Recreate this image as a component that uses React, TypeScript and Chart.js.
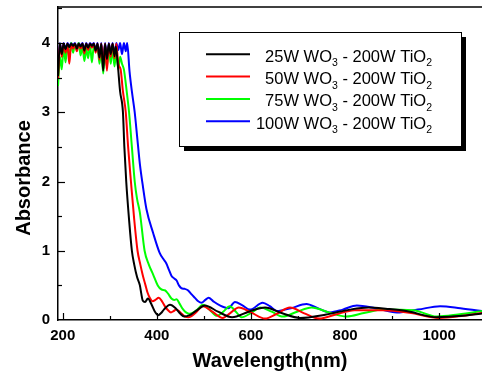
import React, { useEffect, useRef } from 'react';
import { Chart, registerables } from 'chart.js';

Chart.register(...registerables);

// ---------- data (wavelength in nm, absorbance) ----------
const WL_25 = [
  190, 194, 198, 202, 206, 210, 214, 218, 222, 226, 230, 234, 238, 242, 246, 250, 254, 258, 262, 266,
  270, 274, 278, 282, 286, 290, 294, 298, 302, 306, 310, 313, 317, 322, 328, 331, 335, 341, 347, 352,
  358, 364, 367, 370, 375, 381, 389, 396, 403, 409, 415, 428, 440, 450, 458, 470, 485, 502, 530, 560,
  595, 630, 665, 704, 760, 810, 850, 890, 930, 995, 1050, 1100,
];
const ABS_25 = [
  3.52, 3.99, 3.84, 3.99, 3.91, 3.99, 3.94, 3.99, 3.96, 3.99, 3.92, 3.99, 3.95, 3.99, 3.89, 3.99, 3.93, 3.99, 3.96, 3.99,
  3.89, 3.99, 3.79, 3.99, 3.6, 3.99, 3.77, 3.99, 3.84, 3.99, 3.81, 3.95, 3.69, 3.3, 3.0, 2.5, 2.0, 1.45, 1.0, 0.8,
  0.62, 0.5, 0.38, 0.28, 0.26, 0.31, 0.22, 0.12, 0.07, 0.1, 0.15, 0.22, 0.17, 0.09, 0.05, 0.07, 0.14, 0.21, 0.12, 0.04,
  0.12, 0.18, 0.1, 0.03, 0.08, 0.15, 0.18, 0.16, 0.13, 0.04, 0.06, 0.1,
];

const WL_50 = [
  190, 194, 198, 202, 206, 210, 214, 218, 222, 226, 230, 234, 238, 242, 246, 250, 254, 258, 262, 266,
  270, 274, 278, 282, 286, 290, 294, 298, 302, 306, 310, 314, 318, 323, 328, 334, 339, 345, 352, 359,
  365, 370, 376, 380, 385, 391, 397, 404, 411, 418, 424, 430, 436, 441, 447, 453, 460, 467, 482, 498,
  518, 540, 556, 574, 600, 630, 655, 683, 712, 745, 780, 820, 880, 940, 1000, 1050, 1100,
];
const ABS_50 = [
  3.48, 3.99, 3.8, 3.99, 3.86, 3.99, 3.7, 3.99, 3.92, 3.99, 3.88, 3.99, 3.92, 3.99, 3.85, 3.99, 3.9, 3.99, 3.93, 3.99,
  3.86, 3.99, 3.76, 3.99, 3.68, 3.99, 3.6, 3.99, 3.8, 3.99, 3.78, 3.99, 3.7, 3.62, 3.3, 3.0, 2.5, 2.0, 1.45, 1.0,
  0.8, 0.65, 0.5, 0.4, 0.32, 0.27, 0.29, 0.32, 0.27, 0.19, 0.14, 0.11, 0.13, 0.15, 0.13, 0.09, 0.05, 0.04, 0.1, 0.2,
  0.12, 0.03, 0.1, 0.18, 0.11, 0.02, 0.09, 0.18, 0.1, 0.02, 0.08, 0.14, 0.14, 0.1, 0.03, 0.06, 0.11,
];

const WL_75 = [
  190, 194, 198, 202, 206, 210, 214, 218, 222, 226, 230, 234, 238, 242, 246, 250, 254, 258, 262, 266,
  270, 274, 278, 282, 286, 290, 294, 298, 302, 306, 310, 314, 318, 322, 326, 330, 336, 341, 347, 353,
  358, 364, 374, 383, 392, 402, 410, 417, 424, 431, 437, 442, 448, 455, 462, 470, 484, 498, 512, 528,
  541, 555, 568, 580, 600, 620, 644, 668, 698, 729, 765, 803, 840, 881, 945, 995, 1040, 1100,
];
const ABS_75 = [
  3.38, 3.8, 3.62, 3.95, 3.72, 3.98, 3.8, 4.0, 3.86, 3.98, 3.9, 4.0, 3.82, 3.96, 3.74, 3.92, 3.78, 3.98, 3.72, 3.95,
  3.9, 3.98, 3.7, 3.9, 3.56, 3.85, 3.66, 3.95, 3.7, 3.92, 3.66, 3.9, 3.62, 3.8, 3.7, 3.62, 3.3, 3.0, 2.5, 2.0,
  1.75, 1.55, 1.0, 0.8, 0.66, 0.5, 0.44, 0.43, 0.38, 0.31, 0.29, 0.3, 0.24, 0.16, 0.11, 0.09, 0.14, 0.22, 0.15, 0.06,
  0.12, 0.2, 0.12, 0.04, 0.1, 0.18, 0.12, 0.05, 0.12, 0.18, 0.11, 0.05, 0.1, 0.15, 0.14, 0.05, 0.08, 0.14,
];

const WL_100 = [
  190, 194, 198, 202, 206, 210, 214, 218, 222, 226, 230, 234, 238, 242, 246, 250, 254, 258, 262, 266,
  270, 274, 278, 282, 286, 290, 294, 298, 302, 306, 310, 314, 318, 322, 326, 330, 334, 337, 342, 347,
  353, 358, 364, 370, 378, 392, 406, 414, 420, 426, 431, 437, 442, 447, 452, 459, 466, 474, 481, 488,
  495, 503, 510, 520, 534, 552, 566, 582, 598, 625, 640, 655, 685, 718, 742, 768, 795, 825, 865, 910,
  955, 1002, 1045, 1100,
];
const ABS_100 = [
  3.55, 4.0, 3.85, 4.0, 3.92, 4.0, 3.95, 4.0, 3.97, 4.0, 3.93, 4.0, 3.96, 4.0, 3.9, 4.0, 3.94, 4.0, 3.97, 4.0,
  3.9, 4.0, 3.8, 4.0, 3.72, 4.0, 3.78, 4.0, 3.85, 4.0, 3.82, 4.0, 3.9, 4.0, 3.84, 4.0, 3.88, 4.0, 3.59, 3.3,
  3.0, 2.66, 2.25, 1.95, 1.6, 1.26, 0.97, 0.88, 0.82, 0.72, 0.64, 0.6, 0.57, 0.5, 0.46, 0.45, 0.43, 0.37, 0.32, 0.27,
  0.25, 0.29, 0.32, 0.27, 0.21, 0.17, 0.26, 0.21, 0.15, 0.25, 0.2, 0.13, 0.17, 0.23, 0.17, 0.11, 0.15, 0.21, 0.17, 0.11,
  0.15, 0.2, 0.17, 0.12,
];

const SERIES_POWER = ['25W', '50W', '75W', '100W'];
const SERIES_COLORS = ['#000000', '#ff0000', '#00ff00', '#0000ff'];
const SERIES_WL = [WL_25, WL_50, WL_75, WL_100];
const SERIES_ABS = [ABS_25, ABS_50, ABS_75, ABS_100];

const X_MIN = 190;
const X_MAX = 1091;
const Y_MIN = 0;
const Y_MAX = 4.52;
const X_TICKS = [200, 300, 400, 500, 600, 700, 800, 900, 1000];
const X_LABELS = [200, 400, 600, 800, 1000];
const Y_TICKS = [0, 0.5, 1, 1.5, 2, 2.5, 3, 3.5, 4, 4.5];
const Y_LABELS = [0, 1, 2, 3, 4];
const X_TITLE = 'Wavelength(nm)';
const Y_TITLE = 'Absorbance';

const FONT = '"Liberation Sans", Arial, sans-serif';

const decorPlugin = {
  id: 'decor',
  afterDraw(chart: any) {
    const { ctx, chartArea: a, scales } = chart;
    const xs = scales.x;
    const ys = scales.y;
    ctx.save();
    ctx.strokeStyle = '#000';
    ctx.lineWidth = 1.5;
    // top frame line
    ctx.beginPath();
    ctx.moveTo(a.left, a.top);
    ctx.lineTo(a.right, a.top);
    ctx.stroke();
    // inward ticks
    ctx.lineWidth = 1.2;
    X_TICKS.forEach((v) => {
      const px = Math.round(xs.getPixelForValue(v)) + 0.5;
      const len = X_LABELS.includes(v) ? 7 : 4;
      ctx.beginPath();
      ctx.moveTo(px, a.bottom);
      ctx.lineTo(px, a.bottom - len);
      ctx.stroke();
    });
    Y_TICKS.forEach((v) => {
      if (v === 0) return;
      const py = Math.round(ys.getPixelForValue(v)) + 0.5;
      const len = Y_LABELS.includes(v) ? 7 : 4;
      ctx.beginPath();
      ctx.moveTo(a.left, py);
      ctx.lineTo(a.left + len, py);
      ctx.stroke();
    });
    // axis titles
    ctx.fillStyle = '#000';
    ctx.font = `bold 20px ${FONT}`;
    ctx.textAlign = 'center';
    ctx.textBaseline = 'alphabetic';
    ctx.fillText(X_TITLE, (a.left + a.right) / 2, 367);
    ctx.save();
    ctx.translate(30, 178);
    ctx.rotate(-Math.PI / 2);
    ctx.fillText(Y_TITLE, 0, 0);
    ctx.restore();

    // legend
    const bx = 179, by = 32, bw = 282, bh = 114;
    ctx.fillStyle = '#000';
    ctx.fillRect(bx + 5, by + 5, bw, bh);
    ctx.fillStyle = '#fff';
    ctx.fillRect(bx, by, bw, bh);
    ctx.lineWidth = 1;
    ctx.strokeStyle = '#000';
    ctx.strokeRect(bx + 0.5, by + 0.5, bw, bh);
    const mainFont = `16.5px ${FONT}`;
    const subFont = `10.5px ${FONT}`;
    const rightX = 432;
    SERIES_POWER.forEach((p, i) => {
      const ly = 54.3 + i * 22.3;
      ctx.strokeStyle = SERIES_COLORS[i];
      ctx.lineWidth = 2;
      ctx.beginPath();
      ctx.moveTo(206, ly);
      ctx.lineTo(250, ly);
      ctx.stroke();
      const parts = [
        { t: `${p} WO`, f: mainFont, dy: 0 },
        { t: '3', f: subFont, dy: 4.5 },
        { t: ' - 200W TiO', f: mainFont, dy: 0 },
        { t: '2', f: subFont, dy: 4.5 },
      ];
      let total = 0;
      parts.forEach((pt) => {
        ctx.font = pt.f;
        total += ctx.measureText(pt.t).width;
      });
      let cx = rightX - total;
      const base = ly + 7.4;
      ctx.fillStyle = '#000';
      ctx.textAlign = 'left';
      parts.forEach((pt) => {
        ctx.font = pt.f;
        ctx.fillText(pt.t, cx, base + pt.dy);
        cx += ctx.measureText(pt.t).width;
      });
    });
    ctx.restore();
  },
};

export default function App() {
  const canvasRef = useRef<HTMLCanvasElement | null>(null);

  useEffect(() => {
    document.body.style.margin = '0';
    const canvas = canvasRef.current;
    if (!canvas) return;
    const datasets = SERIES_POWER.map((p, i) => ({
      label: `${p} WO3 - 200W TiO2`,
      data: SERIES_WL[i].map((w, k) => ({ x: w, y: SERIES_ABS[i][k] })),
      borderColor: SERIES_COLORS[i],
      backgroundColor: SERIES_COLORS[i],
      borderWidth: 2,
      pointRadius: 0,
      fill: false,
      cubicInterpolationMode: 'monotone' as const,
    }));
    const chart = new Chart(canvas, {
      type: 'line',
      data: { datasets },
      options: {
        animation: false,
        responsive: false,
        devicePixelRatio: 1,
        layout: { padding: { top: 7, left: 0, right: 0, bottom: 0 } },
        plugins: { legend: { display: false }, tooltip: { enabled: false } },
        scales: {
          x: {
            type: 'linear',
            min: X_MIN,
            max: X_MAX,
            grid: { display: false, drawTicks: false },
            border: { display: true, color: '#000', width: 1.5 },
            afterBuildTicks: (s: any) => {
              s.ticks = X_LABELS.map((v) => ({ value: v }));
            },
            ticks: {
              autoSkip: false,
              maxRotation: 0,
              minRotation: 0,
              padding: 7,
              color: '#000',
              font: { family: FONT, size: 15, weight: 'bold' },
              callback: (v: any) => String(v),
            },
            afterFit: (s: any) => {
              s.height = 60;
              s.paddingLeft = 0;
              s.paddingRight = 0;
            },
          },
          y: {
            type: 'linear',
            min: Y_MIN,
            max: Y_MAX,
            grid: { display: false, drawTicks: false },
            border: { display: true, color: '#000', width: 1.5 },
            afterBuildTicks: (s: any) => {
              s.ticks = Y_LABELS.map((v) => ({ value: v }));
            },
            ticks: {
              autoSkip: false,
              padding: 8,
              color: '#000',
              font: { family: FONT, size: 15, weight: 'bold' },
              callback: (v: any) => String(v),
            },
            afterFit: (s: any) => {
              s.width = 58;
              s.paddingTop = 0;
              s.paddingBottom = 0;
            },
          },
        },
      },
      plugins: [decorPlugin],
    });
    return () => chart.destroy();
  }, []);

  return <canvas ref={canvasRef} width={482} height={380} style={{ display: 'block' }} />;
}
